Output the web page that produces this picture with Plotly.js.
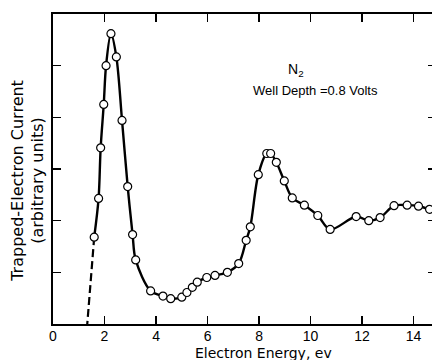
<!DOCTYPE html>
<html>
<head>
<meta charset="utf-8">
<script src="https://cdn.plot.ly/plotly-3.0.1.min.js"></script>
<style>
html,body{margin:0;padding:0;overflow:hidden;background:#fff;}
#chart{width:436px;height:360px;}
</style>
</head>
<body>
<div id="chart"></div>
<script>
// Electron energy (eV) of measured points
var energy = [1.60,1.77,1.85,1.97,2.06,2.25,2.46,2.68,2.90,3.09,3.21,3.79,4.27,4.57,5.00,5.20,5.41,5.60,5.97,6.29,6.77,7.21,7.50,7.66,7.97,8.30,8.45,8.67,8.98,9.29,9.76,10.28,10.76,11.77,12.26,12.70,13.24,13.75,14.19,14.62];
// Trapped-electron current (arbitrary units)
var current = [1.68,2.43,3.41,4.25,5.00,5.62,5.17,3.94,2.66,1.73,1.24,0.64,0.54,0.49,0.52,0.61,0.71,0.81,0.90,0.94,1.00,1.17,1.62,1.88,2.89,3.30,3.30,3.13,2.77,2.44,2.30,2.10,1.83,2.08,2.00,2.06,2.29,2.30,2.28,2.22];
// Curve continuation beyond last point to the frame edge
var tailX = [14.62, 14.9];
var tailY = [2.22, 2.17];
// Dashed extrapolation toward threshold
var dashX = [1.60, 1.33];
var dashY = [1.68, 0.0];
var xTicks = [0,2,4,6,8,10,12,14];
var xTickText = ['0','2','4','6','8','10','12','14'];
var yTicks = [1,2,3,4,5];

var font = 'Liberation Sans, Arial, sans-serif';
var wide = 'DejaVu Sans, sans-serif';

var traces = [
  {x: dashX, y: dashY, mode: 'lines', line: {color: '#000', width: 2.2, dash: '8px,4px'}, hoverinfo: 'skip'},
  {x: tailX, y: tailY, mode: 'lines', line: {color: '#000', width: 2.2}, hoverinfo: 'skip'},
  {x: energy, y: current, mode: 'lines+markers',
   line: {color: '#000', width: 2.4, shape: 'spline', smoothing: 0.9},
   marker: {symbol: 'circle', size: 8, color: '#fff', line: {color: '#000', width: 1.2}}}
];

var layout = {
  width: 436, height: 360,
  margin: {l: 53, r: 0, t: 14, b: 36},
  paper_bgcolor: '#fff', plot_bgcolor: '#fff',
  showlegend: false,
  font: {family: font, color: '#000', size: 13},
  xaxis: {
    range: [0, 14.87], tickmode: 'array', tickvals: xTicks, ticktext: xTickText,
    ticks: 'inside', ticklen: 8, tickwidth: 1.5, tickcolor: '#000',
    showline: true, linecolor: '#000', linewidth: 2, mirror: 'ticks',
    showgrid: false, zeroline: false, ticklabelstandoff: -2,
    tickfont: {family: font, size: 14, color: '#000'}
  },
  yaxis: {
    range: [0, 6], tickmode: 'array', tickvals: yTicks,
    ticks: 'inside', ticklen: 8, tickwidth: 1.5, tickcolor: '#000',
    showticklabels: false,
    showline: true, linecolor: '#000', linewidth: 2, mirror: 'ticks',
    showgrid: false, zeroline: false
  },
  annotations: [
    {xref: 'x', yref: 'y', x: 9.44, y: 4.91, text: 'N<sub>2</sub>', showarrow: false,
     font: {family: font, size: 14, color: '#000'}},
    {xref: 'x', yref: 'y', x: 10.21, y: 4.51, text: 'Well Depth =0.8 Volts', showarrow: false,
     font: {family: font, size: 13, color: '#000'}},
    {xref: 'paper', yref: 'paper', x: -0.066, y: 0.461, xanchor: 'center', yanchor: 'middle',
     text: 'Trapped-Electron Current<br>(arbitrary units)',
     showarrow: false, textangle: -90, font: {family: wide, size: 16, color: '#000'}},
    {xref: 'paper', yref: 'paper', x: 0.549, y: -0.094, xanchor: 'center', yanchor: 'middle',
     text: 'Electron Energy, ev',
     showarrow: false, font: {family: wide, size: 14, color: '#000'}}
  ]
};

Plotly.newPlot('chart', traces, layout, {displayModeBar: false, staticPlot: true});
</script>
</body>
</html>
